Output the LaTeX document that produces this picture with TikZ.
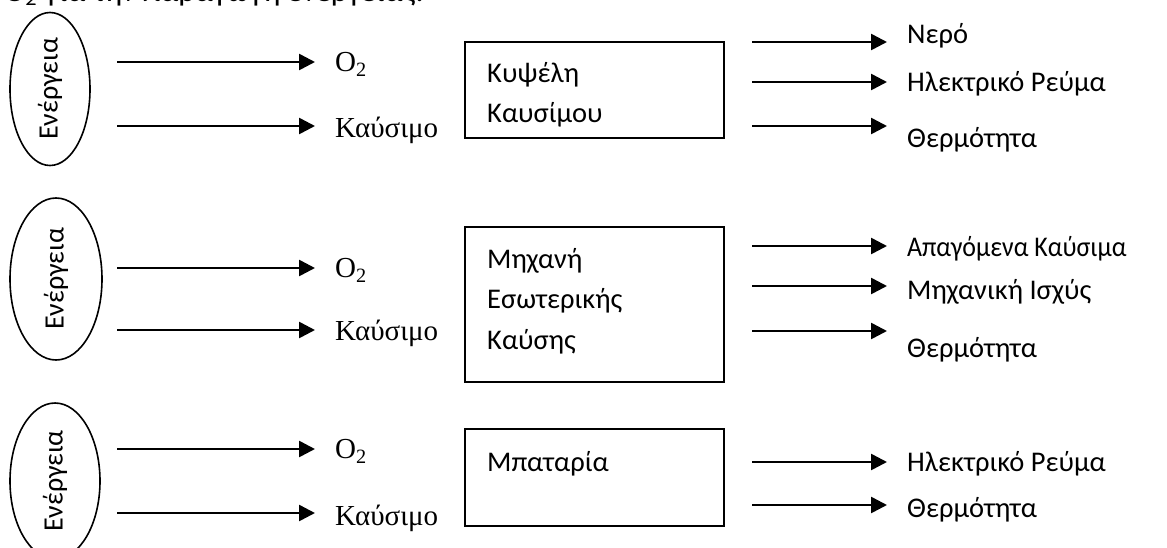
\documentclass[tikz,border=0pt]{standalone}
\usepackage{fontspec}
\setmainfont{Carlito}
\newfontfamily\serifgr{Liberation Serif}
\usetikzlibrary{arrows.meta,shapes.geometric}
\begin{document}
\begin{tikzpicture}[x=1pt,y=-1pt,
  sans/.style={font=\fontsize{28.5}{33}\selectfont, inner sep=0pt, anchor=base west},
  ser/.style={font=\serifgr\fontsize{29}{33}\selectfont, inner sep=0pt, anchor=west},
  arr/.style={line width=2.6pt, -{Triangle[length=16pt,width=16pt]}},
  boxst/.style={draw, line width=1.7pt, minimum width=259pt, inner sep=0pt},
  ell/.style={draw, ellipse, line width=1.6pt, rotate=90, inner sep=0pt,
    font=\fontsize{28}{32}\selectfont}]
\useasboundingbox (0,0) rectangle (1167,547);
\clip (0,0) rectangle (1167,547);

% cut-off heading line
\node[sans, xscale=1.12, transform shape] (head) at (4,1) {O\textsubscript{2} για την παραγωγή ενέργειας.};

% ellipses
\node[ell, minimum width=153pt, minimum height=80pt] (e1) at (50,89) {Ενέργεια};
\node[ell, minimum width=162pt, minimum height=92pt] (e2) at (56,279) {Ενέργεια};
\node[ell, minimum width=156pt, minimum height=90pt] (e3) at (55,481) {Ενέργεια};

% boxes
\node[boxst, minimum height=96pt] (b1) at (594.5,90) {};
\node[boxst, minimum height=155pt] (b2) at (594.5,304.5) {};
\node[boxst, minimum height=97pt] (b3) at (594.5,477.5) {};

\node[sans] (t11) at (487,82) {Κυψέλη};
\node[sans] (t12) at (487,122) {Καυσίμου};
\node[sans] (t21) at (487,268) {Μηχανή};
\node[sans] (t22) at (487,308) {Εσωτερικής};
\node[sans] (t23) at (487,349) {Καύσης};
\node[sans] (t31) at (487,471) {Μπαταρία};

% left labels
\node[ser] (o1) at (335,64) {O\textsubscript{2}};
\node[ser] (k1) at (335,130) {Καύσιμο};
\node[ser] (o2) at (335,270) {O\textsubscript{2}};
\node[ser] (k2) at (335,333) {Καύσιμο};
\node[ser] (o3) at (335,451) {O\textsubscript{2}};
\node[ser] (k3) at (335,518) {Καύσιμο};

% left arrow starts
\coordinate (s1a) at (117,62);
\coordinate (s1b) at (117,126);
\coordinate (s2a) at (117,268);
\coordinate (s2b) at (117,330);
\coordinate (s3a) at (117,449);
\coordinate (s3b) at (117,513);

\draw[arr, shorten >=20pt] (s1a) -- (s1a -| o1.west);
\draw[arr, shorten >=20pt] (s1b) -- (s1b -| k1.west);
\draw[arr, shorten >=20pt] (s2a) -- (s2a -| o2.west);
\draw[arr, shorten >=20pt] (s2b) -- (s2b -| k2.west);
\draw[arr, shorten >=20pt] (s3a) -- (s3a -| o3.west);
\draw[arr, shorten >=20pt] (s3b) -- (s3b -| k3.west);

% right labels
\node[sans] (r11) at (907,43) {Νερό};
\node[sans] (r12) at (907,91) {Ηλεκτρικό Ρεύμα};
\node[sans] (r13) at (907,147) {Θερμότητα};
\node[sans, xscale=0.91, transform shape] (r21) at (907,256) {Απαγόμενα Καύσιμα};
\node[sans] (r22) at (907,299) {Μηχανική Ισχύς};
\node[sans] (r23) at (907,357) {Θερμότητα};
\node[sans] (r31) at (907,471) {Ηλεκτρικό Ρεύμα};
\node[sans] (r32) at (907,517) {Θερμότητα};

% right arrow starts
\coordinate (q11) at (752,42);
\coordinate (q12) at (752,82);
\coordinate (q13) at (752,126);
\coordinate (q21) at (752,246);
\coordinate (q22) at (752,286);
\coordinate (q23) at (752,331);
\coordinate (q31) at (752,462);
\coordinate (q32) at (752,505);

\draw[arr, shorten >=20pt] (q11) -- (q11 -| r11.west);
\draw[arr, shorten >=20pt] (q12) -- (q12 -| r12.west);
\draw[arr, shorten >=20pt] (q13) -- (q13 -| r13.west);
\draw[arr, shorten >=20pt] (q21) -- (q21 -| r21.west);
\draw[arr, shorten >=20pt] (q22) -- (q22 -| r22.west);
\draw[arr, shorten >=20pt] (q23) -- (q23 -| r23.west);
\draw[arr, shorten >=20pt] (q31) -- (q31 -| r31.west);
\draw[arr, shorten >=20pt] (q32) -- (q32 -| r32.west);
\end{tikzpicture}
\end{document}
